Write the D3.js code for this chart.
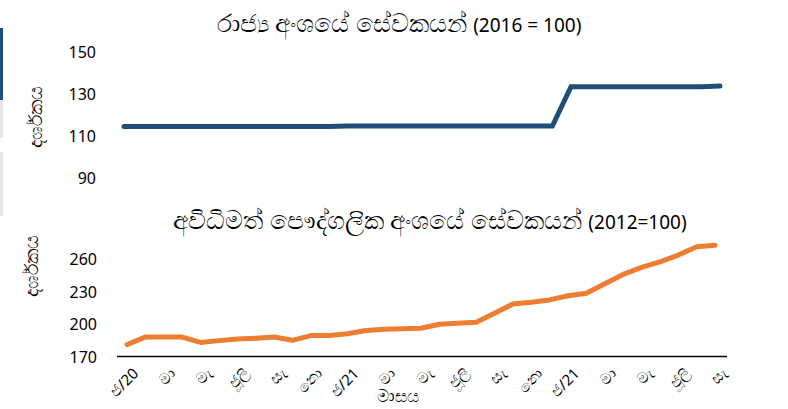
<!DOCTYPE html>
<meta charset="utf-8">
<script src="https://d3js.org/d3.v7.min.js"></script>
<style>
body { margin: 0; background: #fff; }
text { font-family: "Noto Sans", "Open Sans", sans-serif; fill: #000; }
.tick text { font-size: 16px; }
.xlab { font-size: 15px; }
</style>
<body>
</body>
<script>

// month tick labels (every second month, Jan 2020 - Sep 2022)
var tickLabels = ["ජ/20", "මා", "මැ", "ජූලි", "සැ", "නො", "ජ/21", "මා", "මැ",
  "ජූලි", "සැ", "නො", "ජ/21", "මා", "මැ", "ජූලි", "සැ"];

// public sector employees index (2016 = 100), monthly
var publicIdx = [114.6, 114.6, 114.6, 114.6, 114.6, 114.6, 114.6, 114.6, 114.6, 114.6, 114.6, 114.6,
  114.8, 114.8, 114.8, 114.8, 114.8, 114.8, 114.8, 114.8, 114.8, 114.8, 114.8, 114.8,
  133.4, 133.4, 133.4, 133.4, 133.4, 133.4, 133.4, 133.4, 133.7];

// informal private sector employees index (2012 = 100), monthly
var informalIdx = [181, 188, 188, 188, 183, 184.7, 186.3, 187, 188, 185, 189.4, 189.4,
  191, 194, 195.3, 195.6, 196.2, 199.9, 200.8, 201.8, 210, 218.7, 220.2, 222.4,
  226.3, 228.5, 237.4, 246, 252.5, 257.7, 263.9, 271.6, 273];

var topTicks = [90, 110, 130, 150];
var botTicks = [170, 200, 230, 260];

var width = 788, height = 409;
var svg = d3.select("body").append("svg")
  .attr("width", width)
  .attr("height", height);

// leftover slicer strips on the left edge
svg.append("rect").attr("x", 0).attr("y", 28).attr("width", 3).attr("height", 72).attr("fill", "#1f4e79");
svg.append("rect").attr("x", 0).attr("y", 100).attr("width", 3).attr("height", 38).attr("fill", "#e6e6e6");
svg.append("rect").attr("x", 0).attr("y", 152).attr("width", 3).attr("height", 64).attr("fill", "#e6e6e6");

var idx = d3.range(publicIdx.length);

// title: sinhala part drawn larger, the fallback sinhala font runs small
function title(x, y, sin, num) {
  var t = svg.append("text")
    .attr("x", x).attr("y", y)
    .attr("text-anchor", "middle");
  t.append("tspan").style("font-size", "25px").text(sin);
  t.append("tspan").style("font-size", "19px").text(num);
}

// ---- top chart ----
var xTop = d3.scaleLinear().domain([0, 32]).range([124, 720]);
var yTop = d3.scaleLinear().domain([90, 150]).range([178.3, 51.7]);

title(399, 32, "රාජ්‍ය අංශයේ සේවකයන් ", "(2016 = 100)");

var gyTop = svg.append("g")
  .attr("transform", "translate(96,0)")
  .call(d3.axisLeft(yTop).tickValues(topTicks).tickSize(0).tickPadding(0));
gyTop.select(".domain").remove();
gyTop.selectAll("text").attr("dy", "0.35em");

svg.append("text")
  .attr("transform", "translate(42,117) rotate(-90)")
  .attr("text-anchor", "middle")
  .style("font-size", "19px")
  .text("දර්ශකය");

svg.append("path")
  .datum(idx)
  .attr("fill", "none")
  .attr("stroke", "#1f4e79")
  .attr("stroke-width", 5)
  .attr("stroke-linecap", "round")
  .attr("d", d3.line().x(function(d) { return xTop(d); }).y(function(d) { return yTop(publicIdx[d]); }));

// ---- bottom chart ----
var xBot = d3.scaleLinear().domain([0, 32]).range([127, 715]);
var yBot = d3.scaleLinear().domain([170, 260]).range([356.5, 259.3]);

title(430, 229, "අවිධිමත් පෞද්ගලික අංශයේ සේවකයන් ", "(2012=100)");

var gyBot = svg.append("g")
  .attr("transform", "translate(97,0)")
  .call(d3.axisLeft(yBot).tickValues(botTicks).tickSize(0).tickPadding(0));
gyBot.select(".domain").remove();
gyBot.selectAll("text").attr("dy", "0.35em");

svg.append("text")
  .attr("transform", "translate(38,266) rotate(-90)")
  .attr("text-anchor", "middle")
  .style("font-size", "19px")
  .text("දර්ශකය");

svg.append("line")
  .attr("x1", 117).attr("x2", 727)
  .attr("y1", yBot(170)).attr("y2", yBot(170))
  .attr("stroke", "#000")
  .attr("stroke-width", 1.5);

svg.append("path")
  .datum(idx)
  .attr("fill", "none")
  .attr("stroke", "#ed7d31")
  .attr("stroke-width", 5)
  .attr("stroke-linecap", "round")
  .attr("stroke-linejoin", "round")
  .attr("d", d3.line().x(function(d) { return xBot(d); }).y(function(d) { return yBot(informalIdx[d]); }));

svg.selectAll(".xlab")
  .data(tickLabels)
  .enter().append("text")
  .attr("class", "xlab")
  .attr("text-anchor", "end")
  .attr("transform", function(d, i) { return "translate(" + (xBot(i * 2) + 5) + ",367) rotate(-45)"; })
  .attr("dy", "0.7em")
  .text(function(d) { return d; });

svg.append("text")
  .attr("x", 398).attr("y", 402)
  .attr("text-anchor", "middle")
  .style("font-size", "17px")
  .text("මාසය");

</script>
